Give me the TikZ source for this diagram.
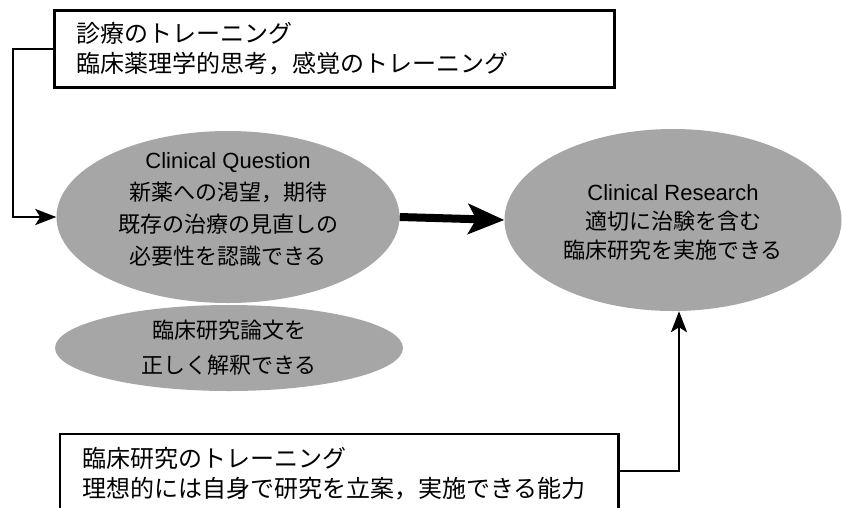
\documentclass[tikz,border=0pt]{standalone}
\usepackage{fontspec}
\setmainfont{Liberation Sans}
\newfontfamily\jp{Noto Sans CJK JP}
\usetikzlibrary{shapes.geometric,arrows.meta}
\tikzset{
  blob/.style={ellipse, fill=black!35, inner sep=0pt},
  blobtext/.style={align=center, inner sep=0pt, font=\fontsize{22}{32}\selectfont},
  txtbox/.style={anchor=north west, align=left, inner xsep=22pt, font=\jp\fontsize{24}{30}\selectfont},
  edge/.style={draw=black, line width=2.6pt},
  conn/.style={line width=2.8pt, -{Stealth[length=21pt,width=16pt,inset=5pt]}},
  bigconn/.style={line width=8pt, -{Stealth[length=36pt,width=30pt,inset=8pt]}}
}
\begin{document}
\begin{tikzpicture}[x=1pt,y=-1pt]
\useasboundingbox (0,0) rectangle (843,507);
\clip (0,0) rectangle (843,507);
\fill[white] (0,0) rectangle (843,507);
% top box
\node[txtbox, text width=516pt, minimum height=77pt, edge] (top) at (53,9)
  {診療のトレーニング\\臨床薬理学的思考，感覚のトレーニング};
% ellipses
\node[blob, minimum width=343pt, minimum height=172pt] (q) at (228,217) {};
\node[blobtext] (qt) at ([yshift=8pt]q.center)
  {Clinical Question\\{\jp 新薬への渇望，期待}\\{\jp 既存の治療の見直しの}\\{\jp 必要性を認識できる}};
\node[blob, minimum width=348pt, minimum height=86pt] (p) at (229,348) {};
\node[blobtext, font=\fontsize{22}{35}\selectfont] (pt) at (p.center)
  {{\jp 臨床研究論文を}\\{\jp 正しく解釈できる}};
\node[blob, minimum width=337pt, minimum height=182pt] (r) at (673,220) {};
\node[blobtext, font=\fontsize{22}{29}\selectfont] (rt) at ([yshift=-2pt]r.center)
  {Clinical Research\\{\jp 適切に治験を含む}\\{\jp 臨床研究を実施できる}};
% bottom box (open at the bottom edge of the picture)
\node[txtbox, text width=514pt, inner ysep=13pt, font=\jp\fontsize{24}{30}\selectfont] (bot) at (60,434)
  {臨床研究のトレーニング\\理想的には自身で研究を立案，実施できる能力};
\draw[edge] ([yshift=-60pt]bot.south west) |- (bot.north east) -- ([yshift=-60pt]bot.south east);
% connectors
\coordinate (c1) at (13,49);
\draw[conn] (top.west |- c1) -- (c1) |- (q.west);
\draw[bigconn] (q.east) -- (r.west);
\coordinate (c2) at (679,471);
\draw[conn] (c2 -| bot.east) -- (c2) -- (c2 |- r.south);
\end{tikzpicture}
\end{document}
